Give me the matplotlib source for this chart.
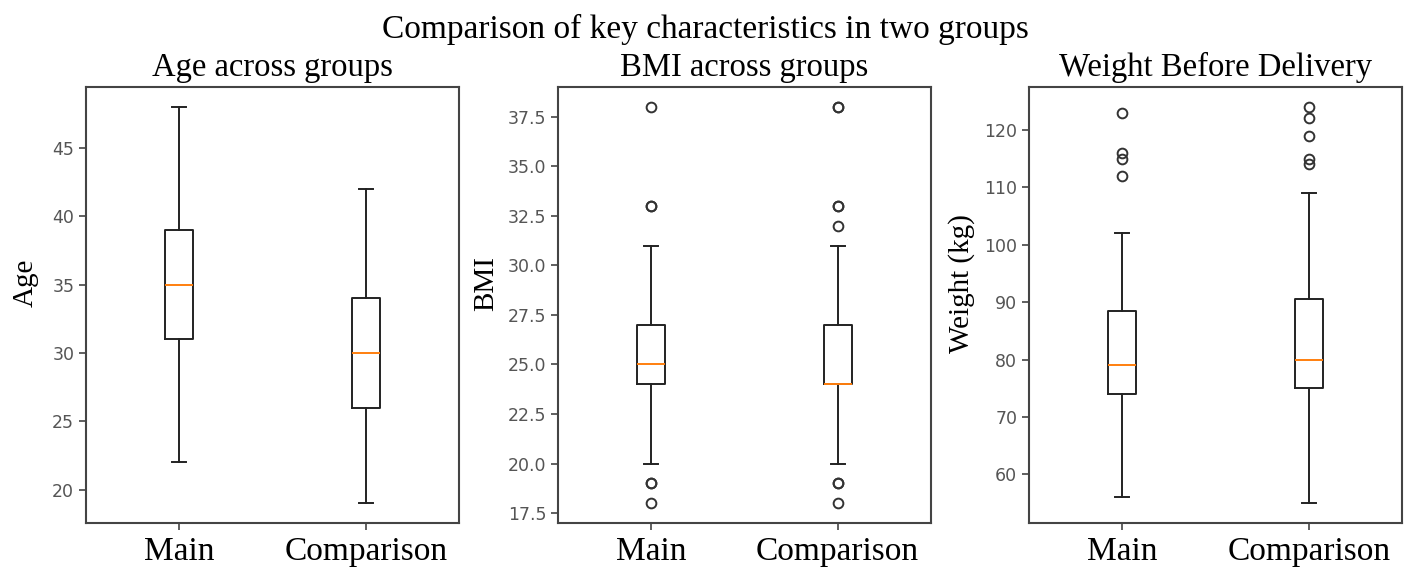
import matplotlib
matplotlib.use("Agg")
import matplotlib.pyplot as plt

groups = ["Main", "Comparison"]

# box stats: whislo, q1, med, q3, whishi, fliers
age_main = dict(whislo=22, q1=31, med=35, q3=39, whishi=48, fliers=[])
age_comp = dict(whislo=19, q1=26, med=30, q3=34, whishi=42, fliers=[])

bmi_main = dict(whislo=20, q1=24, med=25, q3=27, whishi=31,
                fliers=[18, 19, 19, 33, 33, 38])
bmi_comp = dict(whislo=20, q1=24, med=24, q3=27, whishi=31,
                fliers=[18, 19, 19, 32, 33, 33, 38, 38])

weight_main = dict(whislo=56, q1=74, med=79, q3=88.5, whishi=102,
                   fliers=[112, 115, 116, 123])
weight_comp = dict(whislo=55, q1=75, med=80, q3=90.5, whishi=109,
                   fliers=[114, 115, 119, 122, 124])

panels = [
    ("Age across groups", "Age", [age_main, age_comp]),
    ("BMI across groups", "BMI", [bmi_main, bmi_comp]),
    ("Weight Before Delivery", "Weight (kg)", [weight_main, weight_comp]),
]

serif = "Liberation Serif"
fig = plt.figure(figsize=(14.1, 5.68), dpi=100)
lefts = [0.061, 0.3957, 0.7298]
label_x = [-0.126, -0.158, -0.145]

for left, lx, (title, ylabel, stats) in zip(lefts, label_x, panels):
    ax = fig.add_axes([left, 0.0792, 0.2645, 0.7676])
    ax.bxp(stats, positions=[1, 2], widths=0.15,
           boxprops=dict(color="#222222", linewidth=1.4),
           whiskerprops=dict(color="#222222", linewidth=1.4),
           capprops=dict(color="#222222", linewidth=1.4),
           medianprops=dict(color="#ff7f0e", linewidth=1.4),
           flierprops=dict(marker="o", markerfacecolor="none",
                           markeredgecolor="#333333", markersize=7,
                           markeredgewidth=1.4))
    ax.set_title(title, fontsize=23.5, family=serif, pad=8)
    ax.set_ylabel(ylabel, fontsize=21, family=serif)
    ax.yaxis.set_label_coords(lx, 0.55)
    ax.set_xticks([1, 2])
    ax.set_xticklabels(groups, fontsize=24, family=serif)
    ax.tick_params(axis="y", labelsize=12.5, labelcolor="#555555",
                   color="#444444", width=1.2, length=5)
    ax.tick_params(axis="x", color="#444444", width=1.2, length=5, pad=5)
    for sp in ax.spines.values():
        sp.set_color("#444444")
        sp.set_linewidth(1.5)

fig.suptitle("Comparison of key characteristics in two groups",
             fontsize=24, family=serif, y=0.975)

fig.savefig("out.png", dpi=100)
